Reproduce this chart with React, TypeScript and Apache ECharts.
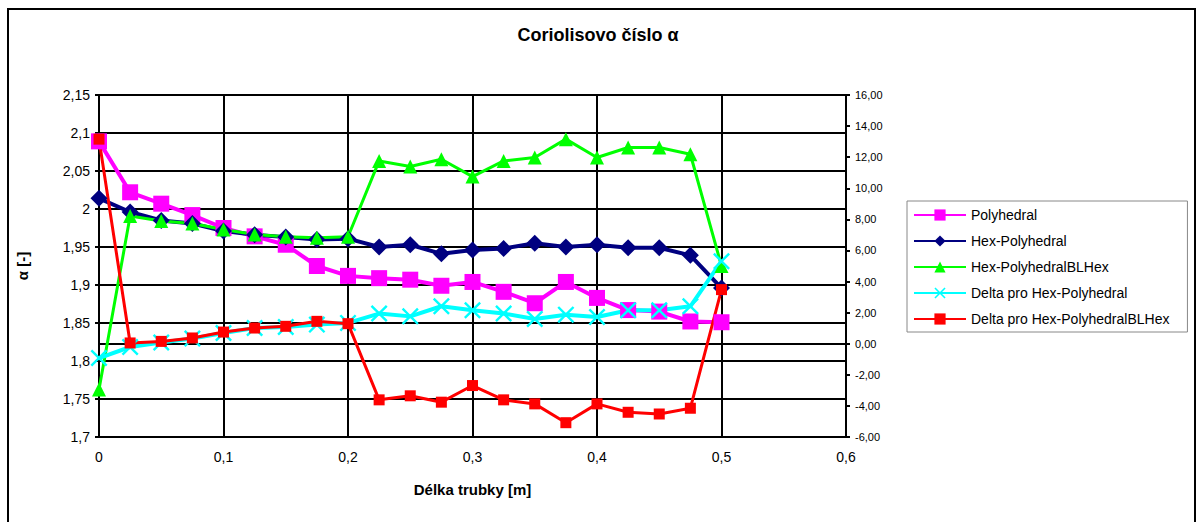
import React, { useEffect, useRef } from "react";
import * as echarts from "echarts";

const xs = [0, 0.025, 0.05, 0.075, 0.1, 0.125, 0.15, 0.175, 0.2, 0.225, 0.25, 0.275, 0.3, 0.325, 0.35, 0.375, 0.4, 0.425, 0.45, 0.475, 0.5];

const polyhedral = [2.089, 2.022, 2.007, 1.992, 1.975, 1.964, 1.953, 1.925, 1.912, 1.909, 1.907, 1.899, 1.904, 1.891, 1.876, 1.904, 1.883, 1.867, 1.865, 1.852, 1.851];
const hexPolyhedral = [2.014, 1.996, 1.985, 1.981, 1.971, 1.966, 1.963, 1.960, 1.961, 1.950, 1.953, 1.941, 1.946, 1.948, 1.955, 1.950, 1.953, 1.949, 1.949, 1.939, 1.896];
const hexPolyhedralBLHex = [-2.95, 8.21, 7.89, 7.74, 7.35, 7.03, 6.88, 6.82, 6.88, 11.76, 11.4, 11.87, 10.75, 11.76, 11.98, 13.16, 11.98, 12.62, 12.62, 12.19, 5.0];
const deltaHexPolyhedral = [-0.92, -0.21, 0.08, 0.34, 0.69, 1.01, 1.08, 1.23, 1.34, 1.94, 1.76, 2.41, 2.15, 1.94, 1.59, 1.87, 1.72, 2.15, 2.15, 2.41, 5.31];
const deltaHexPolyhedralBLHex = [13.16, 0.05, 0.15, 0.37, 0.75, 1.01, 1.12, 1.44, 1.29, -3.61, -3.35, -3.76, -2.69, -3.61, -3.87, -5.08, -3.87, -4.41, -4.52, -4.15, 3.48];

const seriesNames = [
  "Polyhedral",
  "Hex-Polyhedral",
  "Hex-PolyhedralBLHex",
  "Delta pro Hex-Polyhedral",
  "Delta pro Hex-PolyhedralBLHex",
];

const FONT = "'Liberation Sans', Arial, Helvetica, sans-serif";
const X_SYMBOL = "path://M1,0 L5,4 L9,0 L10,1 L6,5 L10,9 L9,10 L5,6 L1,10 L0,9 L4,5 L0,1 Z";

const pairs = (vals: number[]) => xs.map((x, i) => [x, vals[i]]);
const comma = (s: string) => s.replace(".", ",");

export default function App() {
  const ref = useRef<HTMLDivElement>(null);
  useEffect(() => {
    if (!ref.current) return;
    const chart = echarts.init(ref.current, null, { renderer: "svg" });
    chart.setOption({
      animation: false,
      backgroundColor: "#ffffff",
      title: {
        text: "Coriolisovo číslo α",
        left: "center",
        top: 21,
        textStyle: { fontFamily: FONT, fontSize: 18, fontWeight: "bold", color: "#000" },
      },
      graphic: [
        {
          type: "rect",
          shape: { x: 8, y: 9, width: 1187, height: 600 },
          style: { fill: "none", stroke: "#000", lineWidth: 2 },
          silent: true,
        },
      ],
      legend: {
        orient: "vertical",
        left: 907,
        top: 201,
        padding: [7, 18, 6, 6],
        itemWidth: 52,
        itemHeight: 14,
        itemGap: 12,
        borderColor: "#888",
        borderWidth: 1,
        borderRadius: 0,
        textStyle: { fontFamily: FONT, fontSize: 14, color: "#000" },
        data: seriesNames,
      },
      grid: { left: 99, right: 350, top: 95, bottom: 85 },
      xAxis: {
        type: "value",
        min: 0,
        max: 0.6,
        interval: 0.1,
        name: "Délka trubky [m]",
        nameLocation: "middle",
        nameGap: 45,
        nameTextStyle: { fontFamily: FONT, fontSize: 15, fontWeight: "bold", color: "#000" },
        axisLine: { show: true, lineStyle: { color: "#000", width: 2 } },
        axisTick: { show: true, length: 4, lineStyle: { color: "#000", width: 2 } },
        axisLabel: {
          margin: 13,
          fontFamily: FONT,
          fontSize: 14,
          color: "#000",
          formatter: (v: number) => comma(String(Math.round(v * 10) / 10)),
        },
        splitLine: { show: true, lineStyle: { color: "#000", width: 2 } },
      },
      yAxis: [
        {
          type: "value",
          min: 1.7,
          max: 2.15,
          interval: 0.05,
          name: "α [-]",
          nameLocation: "middle",
          nameGap: 69,
          nameTextStyle: { fontFamily: FONT, fontSize: 15, fontWeight: "bold", color: "#000" },
          axisLine: { show: true, lineStyle: { color: "#000", width: 2 } },
          axisTick: { show: true, length: 4, lineStyle: { color: "#000", width: 2 } },
          axisLabel: {
            margin: 9,
            fontFamily: FONT,
            fontSize: 14,
            color: "#000",
            formatter: (v: number) => comma(String(Math.round(v * 100) / 100)),
          },
          splitLine: { show: true, lineStyle: { color: "#000", width: 2 } },
        },
        {
          type: "value",
          min: -6,
          max: 16,
          interval: 2,
          position: "right",
          axisLine: { show: true, lineStyle: { color: "#000", width: 2 } },
          axisTick: { show: true, length: 4, lineStyle: { color: "#000", width: 2 } },
          axisLabel: {
            margin: 9,
            fontFamily: FONT,
            fontSize: 11,
            color: "#000",
            formatter: (v: number) => comma(v.toFixed(2)),
          },
          splitLine: { show: false },
        },
      ],
      series: [
        {
          name: seriesNames[0],
          type: "line",
          yAxisIndex: 0,
          data: pairs(polyhedral),
          symbol: "rect",
          symbolSize: 16,
          color: "#FF00FF",
          lineStyle: { color: "#FF00FF", width: 4 },
          itemStyle: { color: "#FF00FF" },
        },
        {
          name: seriesNames[1],
          type: "line",
          yAxisIndex: 0,
          data: pairs(hexPolyhedral),
          symbol: "diamond",
          symbolSize: 17,
          color: "#000080",
          lineStyle: { color: "#000080", width: 4 },
          itemStyle: { color: "#000080" },
        },
        {
          name: seriesNames[2],
          type: "line",
          yAxisIndex: 1,
          data: pairs(hexPolyhedralBLHex),
          symbol: "triangle",
          symbolSize: 14,
          color: "#00FF00",
          lineStyle: { color: "#00FF00", width: 3 },
          itemStyle: { color: "#00FF00" },
        },
        {
          name: seriesNames[3],
          type: "line",
          yAxisIndex: 1,
          data: pairs(deltaHexPolyhedral),
          symbol: X_SYMBOL,
          symbolSize: 17,
          color: "#00FFFF",
          lineStyle: { color: "#00FFFF", width: 4 },
          itemStyle: { color: "#00FFFF" },
        },
        {
          name: seriesNames[4],
          type: "line",
          yAxisIndex: 1,
          data: pairs(deltaHexPolyhedralBLHex),
          symbol: "rect",
          symbolSize: 11,
          color: "#FF0000",
          lineStyle: { color: "#FF0000", width: 3 },
          itemStyle: { color: "#FF0000" },
        },
      ],
    });
    return () => chart.dispose();
  }, []);
  return (
    <div
      ref={ref}
      style={{ position: "absolute", left: 0, top: 0, width: 1196, height: 522 }}
    />
  );
}
